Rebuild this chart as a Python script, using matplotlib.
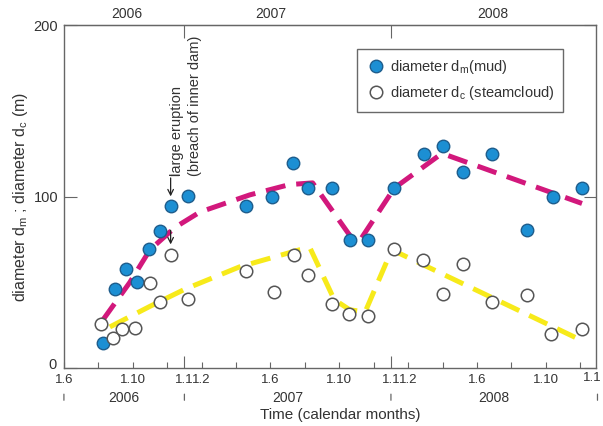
import numpy as np
import matplotlib
matplotlib.use("Agg")
import matplotlib.pyplot as plt

plt.rcParams['font.family'] = ['Liberation Sans', 'DejaVu Sans']
plt.rcParams['mathtext.fontset'] = 'custom'
plt.rcParams['mathtext.rm'] = 'Liberation Sans'
plt.rcParams['mathtext.it'] = 'Liberation Sans'

# time axis: months counted from Jan 2006 (Jan 2006 = 0)
mud_t = [7.26, 7.96, 8.6, 9.24, 9.94, 10.6, 11.2, 12.2, 15.6, 17.1, 18.3,
         19.2, 20.55, 21.6, 22.65, 24.2, 25.9, 27.0, 28.2, 29.9, 31.9, 33.4, 35.1]
mud_d = [14.6, 46, 57.7, 50, 69.4, 80, 94.5, 100.3, 94.5, 99.7, 119.5,
         105, 105, 74.6, 74.6, 105, 125, 129.7, 114.5, 124.6, 80.5, 99.9, 105]

steam_t = [7.15, 7.85, 8.4, 9.12, 10.0, 10.57, 11.2, 12.2, 15.6, 17.2, 18.36,
           19.2, 20.6, 21.55, 22.65, 24.2, 25.85, 27.0, 28.2, 29.9, 31.9, 33.3, 35.1]
steam_d = [25.7, 17.5, 22.7, 23.3, 49.6, 38.5, 65.9, 40.2, 56.6, 44.3, 65.9,
           54.2, 37.3, 31.5, 30.3, 69.4, 63, 43, 60.6, 38.5, 42.6, 19.8, 22.7]

# hand drawn trend lines
mud_trend_t = [7.26, 8.83, 10.0, 11.45, 12.9, 15.8, 18.1, 19.45, 21.6, 22.3, 24.2, 26.8, 27.3, 35.1]
mud_trend_d = [28, 50, 69, 82, 91, 101, 107, 108, 77.5, 76, 105, 124, 124, 96]
steam_trend_t = [7.67, 10.0, 12.03, 15.2, 18.7, 19.3, 20.7, 21.6, 22.5, 24.05, 35.1]
steam_trend_d = [24, 36, 46, 59, 69, 70, 40, 34, 32.7, 69, 16]

tick_pos = [5, 7, 9, 11, 12, 13, 15, 17, 19, 21, 23, 24, 25, 27, 29, 31, 33, 35]
tick_lab = {5: '1.6', 9: '1.10', 12: '1.1', 13: '1.2', 17: '1.6', 21: '1.10',
            24: '1.1', 25: '1.2', 29: '1.6', 33: '1.10'}
year_edges = [5, 12, 24, 36]
years = ['2006', '2007', '2008']
top_year_pos = [8.66, 17.0, 29.9]

txt = '#333333'
spine = '#666666'

fig = plt.figure(figsize=(6.03, 4.26), dpi=100)
ax = fig.add_axes([0.106, 0.136, 0.882, 0.805])

ax.plot(mud_trend_t, mud_trend_d, color='#d2187c', lw=3.6, dashes=(4, 2.2),
        solid_capstyle='butt', zorder=2)
ax.plot(steam_trend_t, steam_trend_d, color='#f7ea1a', lw=3.6, dashes=(4, 2.2),
        solid_capstyle='butt', zorder=2)

ax.plot(mud_t, mud_d, 'o', ms=9, mfc='#1c8fd3', mec='#1e5d8c', mew=1.0,
        ls='none', zorder=3, label='diameter d$_\\mathrm{m}$(mud)')
ax.plot(steam_t, steam_d, 'o', ms=9, mfc='white', mec='#555555', mew=1.1,
        ls='none', zorder=3, label='diameter d$_\\mathrm{c}$ (steamcloud)')

ax.set_xlim(5, 35.9)
ax.set_ylim(0, 200)

for s in ax.spines.values():
    s.set_color(spine)
    s.set_linewidth(1.0)

# y axis
ax.set_yticks([0, 100, 200])
ax.set_yticklabels(['', '100', '200'])
ax.tick_params(axis='y', direction='in', length=9, color=spine, labelcolor=txt,
               labelsize=10.5, right=True, pad=4)
ax.text(-0.014, 0.01, '0', transform=ax.transAxes, ha='right', va='center',
        color=txt, fontsize=10.5)
ax.set_ylabel('diameter d$_\\mathrm{m}$ ; diameter d$_\\mathrm{c}$ (m)',
              fontsize=11.5, color=txt, labelpad=3)

# bottom axis: months
ax.set_xticks(tick_pos)
ax.set_xticklabels([tick_lab.get(p, '') for p in tick_pos])
ax.tick_params(axis='x', direction='in', length=4, color=spine, labelcolor=txt,
               labelsize=9.5, pad=4)
for t in ax.xaxis.get_major_ticks():
    if t.get_loc() in (12, 24):
        t.tick1line.set_markersize(9)
ax.text(35.7, -0.03, '1.1', transform=ax.get_xaxis_transform(), ha='center',
        va='center', fontsize=9.5, color=txt)

# year row under the months
for e in year_edges:
    ax.annotate('', xy=(e, -0.068), xytext=(e, -0.102), xycoords=('data', 'axes fraction'),
                arrowprops=dict(arrowstyle='-', color=spine, lw=0.9))
for i, y in enumerate(years):
    ax.text((year_edges[i] + min(year_edges[i + 1], 35.9)) / 2, -0.087, y,
            transform=ax.get_xaxis_transform(), ha='center', va='center',
            fontsize=10, color=txt)
ax.text(0.52, -0.115, 'Time (calendar months)', transform=ax.transAxes,
        ha='center', va='top', fontsize=11, color=txt)

# top axis: years
top = ax.secondary_xaxis('top')
top.set_xticks([12, 24])
top.set_xticklabels(['', ''])
top.tick_params(direction='in', length=9, color=spine)
top.spines['top'].set_color(spine)
for p, y in zip(top_year_pos, years):
    ax.text(p, 1.012, y, transform=ax.get_xaxis_transform(), ha='center',
            va='bottom', fontsize=10, color=txt)

# eruption note
ax.text(11.55, 112, 'large eruption', rotation=90, ha='center', va='bottom',
        fontsize=10.5, color=txt)
ax.text(12.6, 112, '(breach of inner dam)', rotation=90, ha='center', va='bottom',
        fontsize=10.5, color=txt)
ax.annotate('', xy=(11.2, 98.5), xytext=(11.2, 112.5),
            arrowprops=dict(arrowstyle='->', color='#222222', lw=0.9))
ax.plot([11.2, 11.6], [112.5, 112.5], color='#222222', lw=0.9)
ax.annotate('', xy=(11.2, 70.5), xytext=(11.2, 82),
            arrowprops=dict(arrowstyle='->', color='#222222', lw=0.9))

leg = ax.legend(loc='upper right', bbox_to_anchor=(0.953, 0.952), fontsize=10.5,
                frameon=True, fancybox=False, handletextpad=0.35,
                borderpad=0.65, labelspacing=0.55, handlelength=1.2)
leg.get_frame().set_edgecolor('#444444')
leg.get_frame().set_linewidth(1.0)
for t in leg.get_texts():
    t.set_color(txt)

fig.savefig('out.png', dpi=100)
